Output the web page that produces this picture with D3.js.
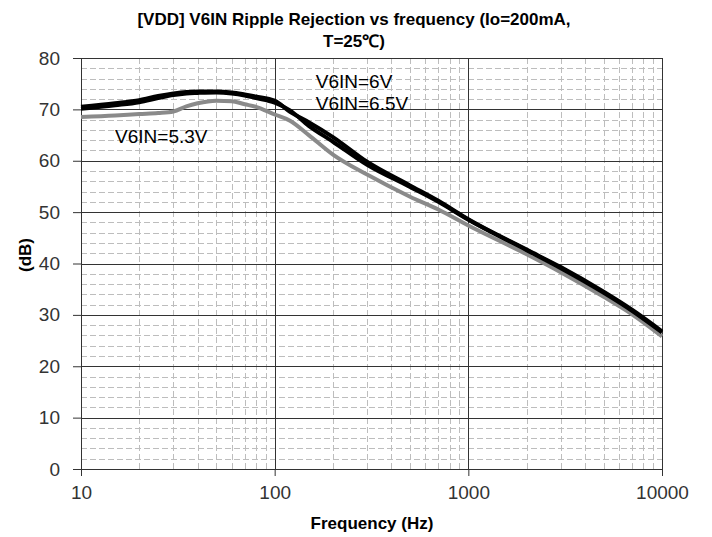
<!DOCTYPE html>
<html>
  <head>
    <title>V6IN Ripple Rejection vs frequency</title>
    <meta charset="utf-8">
    <script src="https://d3js.org/d3.v7.min.js"></script>
    <style>
    body { margin: 0; background: #fff; }
    svg { font-family: Arial, 'Liberation Sans', sans-serif; }
    .minor line { stroke: #bdbdbd; stroke-dasharray: 6,3; }
    .major line { stroke: #333; }
    .axis path, .axis line { stroke: #333; }
    .axis text { fill: #333; font-size: 19px; }
    </style>
  </head>
  <body>
    <script>

      // data
      var freq = [10, 15, 20, 25, 30, 35, 40, 50, 60, 70, 80, 100, 120, 150, 200, 300, 500, 700, 1000, 2000, 3000, 5000, 7000, 10000];
      var v6 = [70.5, 71.2, 71.8, 72.6, 73.1, 73.4, 73.5, 73.5, 73.3, 72.9, 72.5, 71.7, 69.5, 67.5, 64.6, 59.8, 55.2, 52.2, 48.6, 42.7, 39.3, 34.5, 31.0, 26.8];
      var v65 = [70.1, 70.8, 71.4, 72.2, 72.8, 73.1, 73.2, 73.3, 73.1, 72.7, 72.2, 71.3, 69.8, 66.8, 63.7, 59.2, 54.9, 52.0, 48.5, 42.6, 39.1, 34.3, 30.8, 26.6];
      var v53 = [68.5, 68.8, 69.1, 69.3, 69.6, 70.6, 71.2, 71.7, 71.6, 71.0, 70.5, 69.0, 67.8, 65.0, 61.2, 57.3, 53.0, 50.5, 47.4, 41.8, 38.3, 33.5, 30.1, 25.8];
      var yTicks = [0, 10, 20, 30, 40, 50, 60, 70, 80];
      var xTicks = [10, 100, 1000, 10000];
      var labels = [
        {text: "V6IN=6V", f: 163, db: 74.1},
        {text: "V6IN=6.5V", f: 163, db: 69.8},
        {text: "V6IN=5.3V", f: 15, db: 63.4}
      ];

      // setup
      var w = 712, h = 537;
      var margin = {top: 58, right: 50, bottom: 68, left: 81};
      var plotwidth = w - margin.left - margin.right;
      var plotheight = h - margin.top - margin.bottom;

      var svg = d3.select("body").append("svg")
          .attr("width", w)
          .attr("height", h);
      var plotarea = svg.append("g")
          .attr("transform", "translate(" + margin.left + "," + margin.top + ")");

      var xScale = d3.scaleLog().domain([10, 10000]).range([0, plotwidth]);
      var yScale = d3.scaleLinear().domain([0, 80]).range([plotheight, 0]);

      // minor grid
      var minorX = [];
      [10, 100, 1000].forEach(function(d) {
        for (var k = 2; k < 10; k++) minorX.push(d * k);
      });
      var minorY = d3.range(0, 81, 2).filter(function(d) { return d % 10 != 0; });

      var minor = plotarea.append("g").attr("class", "minor");
      minor.selectAll(".mx").data(minorX).enter().append("line")
          .attr("x1", function(d) { return Math.round(xScale(d)) + 0.5; })
          .attr("x2", function(d) { return Math.round(xScale(d)) + 0.5; })
          .attr("y1", 0).attr("y2", plotheight);
      minor.selectAll(".my").data(minorY).enter().append("line")
          .attr("y1", function(d) { return Math.round(yScale(d)) + 0.5; })
          .attr("y2", function(d) { return Math.round(yScale(d)) + 0.5; })
          .attr("x1", 0).attr("x2", plotwidth);

      // major grid
      var major = plotarea.append("g").attr("class", "major");
      major.selectAll(".gx").data(xTicks).enter().append("line")
          .attr("x1", function(d) { return Math.round(xScale(d)) + 0.5; })
          .attr("x2", function(d) { return Math.round(xScale(d)) + 0.5; })
          .attr("y1", 0).attr("y2", plotheight);
      major.selectAll(".gy").data(yTicks).enter().append("line")
          .attr("y1", function(d) { return Math.round(yScale(d)) + 0.5; })
          .attr("y2", function(d) { return Math.round(yScale(d)) + 0.5; })
          .attr("x1", 0).attr("x2", plotwidth);

      // axes
      var xAxis = d3.axisBottom(xScale).tickValues(xTicks).tickFormat(d3.format("d"))
          .tickSize(7).tickPadding(10);
      var yAxis = d3.axisLeft(yScale).tickValues(yTicks).tickSize(8).tickPadding(13);

      plotarea.append("g").attr("class", "axis")
          .attr("transform", "translate(0," + plotheight + ")")
          .call(xAxis)
          .select(".domain").remove();
      plotarea.append("g").attr("class", "axis")
          .call(yAxis)
          .select(".domain").remove();

      // lines
      var line = d3.line()
          .x(function(d) { return xScale(d[0]); })
          .y(function(d) { return yScale(d[1]); })
          .curve(d3.curveMonotoneX);

      var series = [
        {vals: v53, color: "#8a8a8a"},
        {vals: v65, color: "#000"},
        {vals: v6, color: "#000"}
      ];
      plotarea.selectAll(".series").data(series).enter().append("path")
          .attr("fill", "none")
          .attr("stroke", function(d) { return d.color; })
          .attr("stroke-width", 4)
          .attr("stroke-linejoin", "round")
          .attr("d", function(d) { return line(d3.zip(freq, d.vals)); });

      // labels
      plotarea.selectAll(".lbl").data(labels).enter().append("text")
          .attr("x", function(d) { return xScale(d.f); })
          .attr("y", function(d) { return yScale(d.db); })
          .attr("font-size", 19)
          .attr("fill", "#000")
          .text(function(d) { return d.text; });

      // titles
      svg.append("text")
          .attr("x", 354).attr("y", 25)
          .attr("text-anchor", "middle")
          .attr("font-size", 17).attr("font-weight", "bold")
          .text("[VDD] V6IN Ripple Rejection vs frequency (Io=200mA,");
      svg.append("text")
          .attr("x", 354).attr("y", 47)
          .attr("text-anchor", "middle")
          .attr("font-size", 17).attr("font-weight", "bold")
          .text("T=25\u2103)");
      svg.append("text")
          .attr("x", 372).attr("y", 529)
          .attr("text-anchor", "middle")
          .attr("font-size", 17).attr("font-weight", "bold")
          .text("Frequency (Hz)");
      svg.append("text")
          .attr("transform", "translate(31,255) rotate(-90)")
          .attr("text-anchor", "middle")
          .attr("font-size", 17).attr("font-weight", "bold")
          .text("(dB)");

    </script>
  </body>
</html>
